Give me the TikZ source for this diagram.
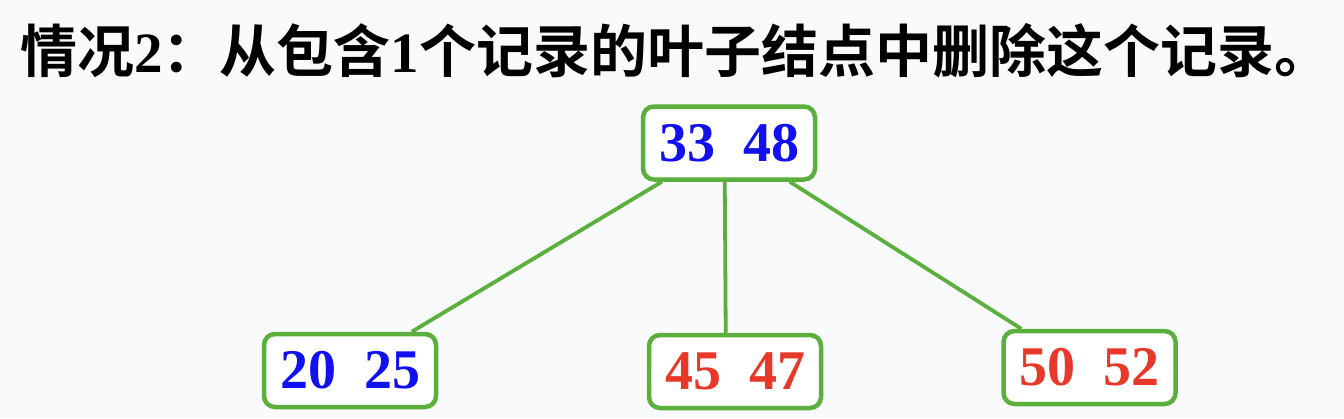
\documentclass[tikz,border=0pt]{standalone}
\usepackage{fontspec}
\setmainfont{Liberation Serif}
\newfontfamily\cjk[BoldFont={Noto Sans CJK SC Bold}]{Noto Sans CJK SC}
\usetikzlibrary{calc}
\definecolor{bgc}{HTML}{F9FAFB}
\definecolor{grn}{HTML}{5BAF3C}
\definecolor{blu}{HTML}{1010F0}
\definecolor{rd}{HTML}{E8382A}
\tikzset{
  keybox/.style={draw=grn, line width=4.5pt, rounded corners=11pt, fill=white,
    minimum width=172pt, minimum height=73pt, inner sep=0pt,
    font=\fontsize{56}{56}\selectfont\bfseries},
  link/.style={draw=grn, line width=3.8pt},
}
\begin{document}
\begin{tikzpicture}[x=1pt,y=-1pt]
\useasboundingbox[fill=bgc] (0,0) rectangle (1344,418);
\node[anchor=base west, inner sep=0pt, font=\fontsize{57}{57}\selectfont\bfseries] (title) at (20,72)
  {{\cjk 情况}2{\cjk ：从包含}1{\cjk 个记录的叶子结点中删除这个记录。}};
\node[keybox, text=blu] (top) at (729,143) {33\ \ 48};
\node[keybox, text=blu] (left) at (350,370.5) {20\ \ 25};
\node[keybox, text=rd] (mid) at (735,371.5) {45\ \ 47};
\node[keybox, text=rd] (right) at (1089.5,367.5) {50\ \ 52};
\draw[link] ($(top.south west)+(21,0)$) -- ($(left.north west)+(150,0)$);
\draw[link] ($(top.south west)+(84,0)$) -- ($(mid.north west)+(79,0)$);
\draw[link] ($(top.south west)+(149,0)$) -- ($(right.north west)+(20,0)$);
\end{tikzpicture}
\end{document}
